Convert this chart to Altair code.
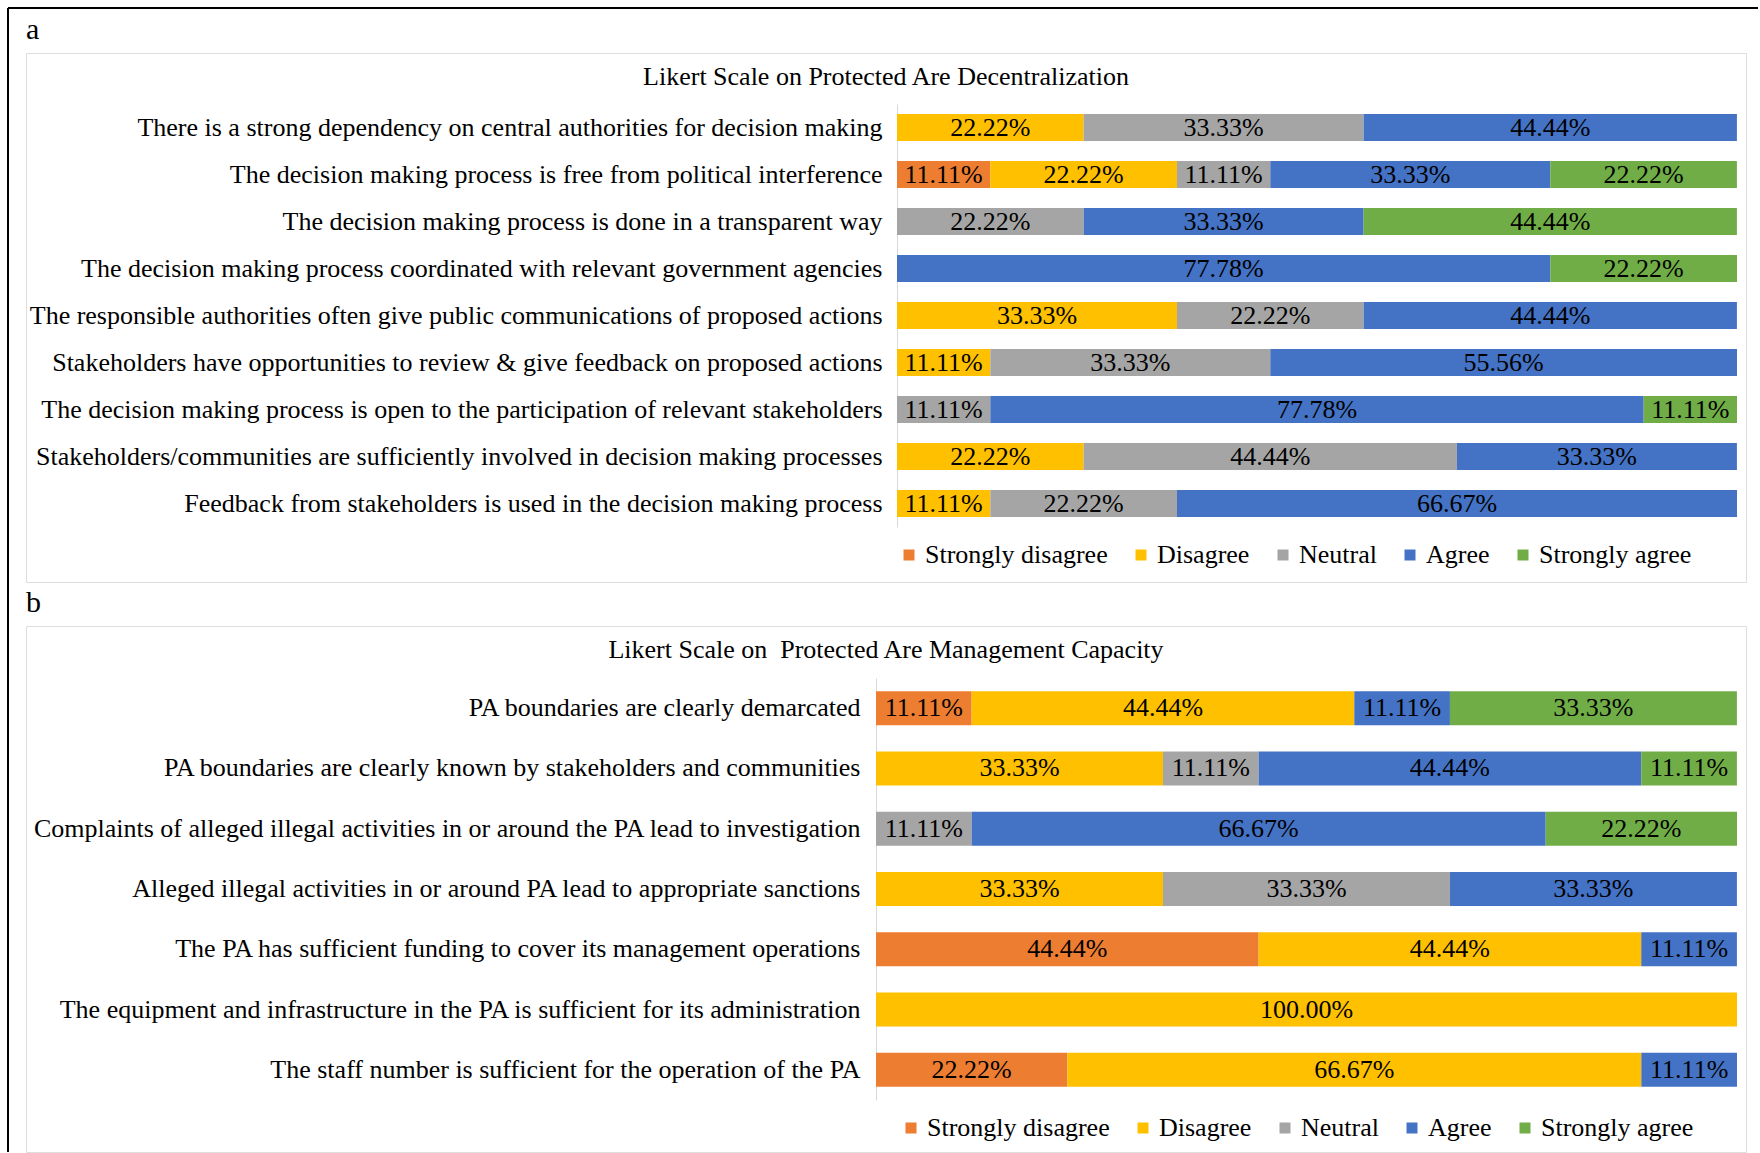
import altair as alt
import pandas as pd

FONT = "Liberation Serif"

LEVELS = ["Strongly disagree", "Disagree", "Neutral", "Agree", "Strongly agree"]
COLORS = ["#ED7D31", "#FFC000", "#A5A5A5", "#4472C4", "#70AD47"]

# Panel a: decentralization statements (top to bottom)
TITLE_A = "Likert Scale on Protected Are Decentralization"
ITEMS_A = [
    "There is a strong dependency on central authorities for decision making",
    "The decision making process is free from political interference",
    "The decision making process is done in a transparent way",
    "The decision making process coordinated with relevant government agencies",
    "The responsible authorities often give public communications of proposed actions",
    "Stakeholders have opportunities to review & give feedback on proposed actions",
    "The decision making process is open to the participation of relevant stakeholders",
    "Stakeholders/communities are sufficiently involved in decision making processes",
    "Feedback from stakeholders is used in the decision making process",
]
SD_A = [0, 11.11, 0, 0, 0, 0, 0, 0, 0]
D_A = [22.22, 22.22, 0, 0, 33.33, 11.11, 0, 22.22, 11.11]
N_A = [33.33, 11.11, 22.22, 0, 22.22, 33.33, 11.11, 44.44, 22.22]
A_A = [44.44, 33.33, 33.33, 77.78, 44.44, 55.56, 77.78, 33.33, 66.67]
SA_A = [0, 22.22, 44.44, 22.22, 0, 0, 11.11, 0, 0]

# Panel b: management capacity statements (top to bottom)
TITLE_B = "Likert Scale on\u00a0 Protected Are Management Capacity"
ITEMS_B = [
    "PA boundaries are clearly demarcated",
    "PA boundaries are clearly known by stakeholders and communities",
    "Complaints of alleged illegal activities in or around the PA lead to investigation",
    "Alleged illegal activities in or around PA lead to appropriate sanctions",
    "The PA has sufficient funding to cover its management operations",
    "The equipment and infrastructure in the PA is sufficient for its administration",
    "The staff number is sufficient for the operation of the PA",
]
SD_B = [11.11, 0, 0, 0, 44.44, 0, 22.22]
D_B = [44.44, 33.33, 0, 33.33, 44.44, 100.0, 66.67]
N_B = [0, 11.11, 11.11, 33.33, 0, 0, 0]
A_B = [11.11, 44.44, 66.67, 33.33, 11.11, 0, 11.11]
SA_B = [33.33, 11.11, 22.22, 0, 0, 0, 0]


def long_table(items, columns):
    rows = []
    for i, item in enumerate(items):
        for k, (level, col) in enumerate(zip(LEVELS, columns)):
            if col[i] > 0:
                rows.append({"item": item, "level": level, "order": k, "value": col[i]})
    return pd.DataFrame(rows)


def panel(letter, title, items, columns, x_range, y_range, pad_inner, label_pad,
          legend_x, legend_y, frame_y, frame_y2, top_line, height):
    df = long_table(items, columns)
    base = alt.Chart(df).transform_stack(
        stack="value", groupby=["item"], sort=[alt.SortField("order")], as_=["v0", "v1"]
    ).transform_calculate(
        mid="(datum.v0 + datum.v1) / 2",
        label="format(datum.value, '.2f') + '%'",
    )
    x_scale = alt.Scale(domain=[0, 100], range=x_range)
    y_enc = alt.Y(
        "item:N",
        sort=items,
        scale=alt.Scale(range=y_range, paddingInner=pad_inner, paddingOuter=pad_inner / 2),
        axis=alt.Axis(
            title=None, orient="left", offset=-x_range[0], ticks=False, grid=False,
            labelPadding=label_pad, labelFont=FONT, labelFontSize=26, labelColor="#000000",
            labelLimit=1200, domainColor="#D9D9D9", domainWidth=1,
        ),
    )
    bars = base.mark_bar().encode(
        x=alt.X("v0:Q", scale=x_scale, axis=None),
        x2="v1:Q",
        y=y_enc,
        color=alt.Color(
            "level:N",
            scale=alt.Scale(domain=LEVELS, range=COLORS),
            legend=alt.Legend(
                orient="none", legendX=legend_x, legendY=legend_y, direction="horizontal",
                title=None, symbolType="square", symbolSize=121, symbolStrokeWidth=0,
                labelFont=FONT, labelFontSize=26, labelColor="#000000", labelOffset=3,
                columnPadding=20, padding=0, labelLimit=400,
            ),
        ),
    )
    labels = base.mark_text(
        font=FONT, fontSize=26, color="#000000", align="center", baseline="middle"
    ).encode(x=alt.X("mid:Q", scale=x_scale, axis=None), y=y_enc, text="label:N")

    heading = alt.Chart(pd.DataFrame({"t": [title]})).mark_text(
        font=FONT, fontSize=26, color="#000000", align="center", baseline="middle"
    ).encode(x=alt.value(860), y=alt.value(24), text="t:N")
    tag = alt.Chart(pd.DataFrame({"t": [letter]})).mark_text(
        font=FONT, fontSize=30, color="#000000", align="left", baseline="alphabetic"
    ).encode(x=alt.value(0), y=alt.value(-14), text="t:N")

    frame_df = pd.DataFrame({"k": [0]})
    left_line = alt.Chart(frame_df).mark_rule(color="#000000", strokeWidth=2).encode(
        x=alt.value(-18), y=alt.value(frame_y), y2=alt.value(frame_y2)
    )
    layers = [bars, labels, heading, tag, left_line]
    if top_line:
        layers.append(
            alt.Chart(frame_df).mark_rule(color="#000000", strokeWidth=2).encode(
                x=alt.value(-18), x2=alt.value(1732), y=alt.value(frame_y)
            )
        )
    return alt.layer(*layers).properties(width=1720, height=height)


chart_a = panel(
    "a", TITLE_A, ITEMS_A, [SD_A, D_A, N_A, A_A, SA_A],
    x_range=[871, 1711], y_range=[51, 474], pad_inner=0.425, label_pad=15,
    legend_x=870, legend_y=489, frame_y=-45, frame_y2=573, top_line=True, height=529,
)
chart_b = panel(
    "b", TITLE_B, ITEMS_B, [SD_B, D_B, N_B, A_B, SA_B],
    x_range=[850, 1711], y_range=[52, 474], pad_inner=0.436, label_pad=16,
    legend_x=872, legend_y=489, frame_y=-2, frame_y2=526, top_line=False, height=526,
)

chart = alt.vconcat(
    chart_a, chart_b, spacing=44, bounds="flush",
    padding={"left": 6, "top": 6, "right": 0, "bottom": 0},
    background="white",
).resolve_scale(
    color="independent", x="independent", y="independent"
).resolve_legend(color="independent").configure_view(
    stroke="#D9D9D9", strokeWidth=1
).configure(font=FONT)

chart.save("out.html", embed_options={"renderer": "svg", "actions": False})
